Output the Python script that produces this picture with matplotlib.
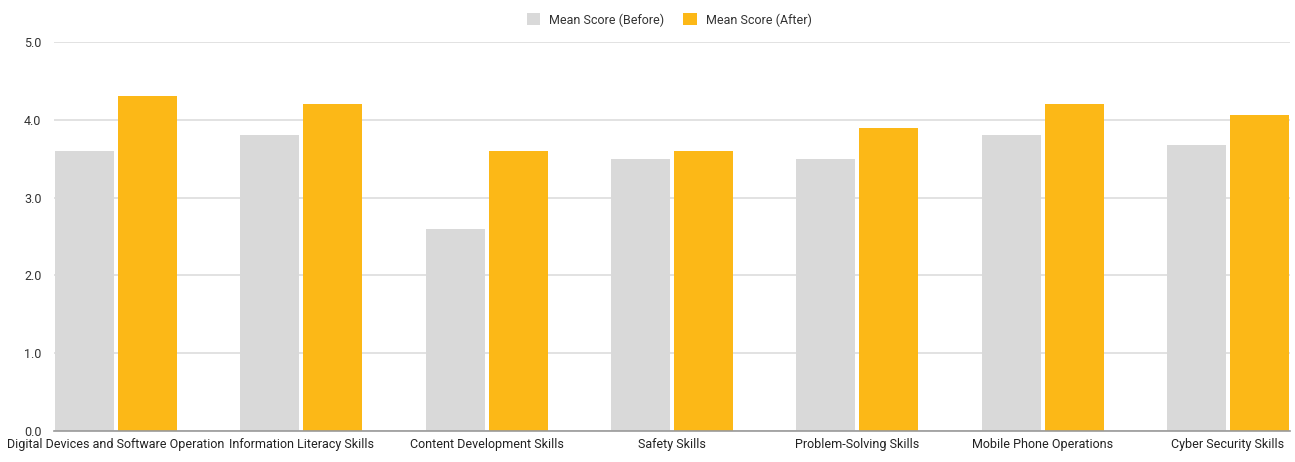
import matplotlib
matplotlib.use("Agg")
import matplotlib.pyplot as plt
import numpy as np

categories = ["Digital Devices and Software Operation", "Information Literacy Skills",
              "Content Development Skills", "Safety Skills", "Problem-Solving Skills",
              "Mobile Phone Operations", "Cyber Security Skills"]
before = [3.6, 3.8, 2.6, 3.5, 3.5, 3.8, 3.67]
after = [4.3, 4.2, 3.6, 3.6, 3.9, 4.2, 4.06]
series_labels = ["Mean Score (Before)", "Mean Score (After)"]
yticks = [0.0, 1.0, 2.0, 3.0, 4.0, 5.0]

plt.rcParams['font.family'] = ['Roboto', 'DejaVu Sans']

fig = plt.figure(figsize=(12.95, 4.62), dpi=100)
ax = fig.add_axes([54/1295, 1-431/462, (1290-54)/1295, (431-42)/462])

x = np.arange(len(categories))
w = 0.318
gap = 0.011
ax.bar(x - w/2 - gap, before, width=w, color="#D9D9D9", label=series_labels[0], zorder=3)
ax.bar(x + w/2 + gap, after, width=w, color="#FCB817", label=series_labels[1], zorder=3)

ax.set_xlim(-0.335, len(categories) - 1 + 0.335)
ax.set_ylim(0, 5.0)
ax.set_yticks(yticks)
ax.set_yticklabels([f"{t:.1f}" for t in yticks], fontsize=9, color="#333333")
ax.set_xticks(x)
ax.set_xticklabels(categories, fontsize=9, color="#222222")
ax.tick_params(axis='both', length=0)
ax.tick_params(axis='y', pad=9)
ax.tick_params(axis='x', pad=5)
ax.yaxis.grid(True, color="#DDDDDD", linewidth=1.2, zorder=0)
for s in ["top", "right", "left"]:
    ax.spines[s].set_visible(False)
ax.spines["bottom"].set_color("#999999")
ax.spines["bottom"].set_linewidth(1.2)
ax.spines["bottom"].set_zorder(4)

ax.legend(loc="center", bbox_to_anchor=((669 - 54)/1236, (431 - 20)/389), ncol=2,
          frameon=False, fontsize=9, handlelength=1.1, handleheight=1.1,
          columnspacing=1.5, handletextpad=0.7, labelcolor="#333333")

fig.savefig("out.png", dpi=100)
